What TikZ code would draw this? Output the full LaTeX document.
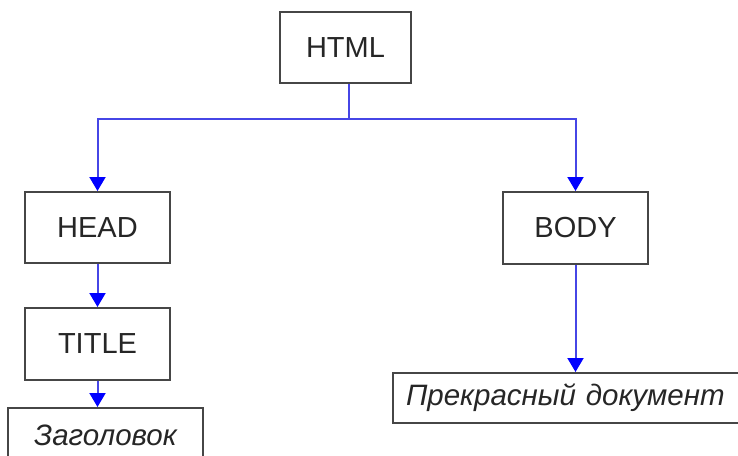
\documentclass[tikz,border=0pt]{standalone}
\usepackage{fontspec}
\setmainfont{Liberation Sans}
\usetikzlibrary{arrows.meta}
\definecolor{linkblue}{RGB}{70,70,230}
\definecolor{boxgray}{RGB}{70,70,70}

\begin{document}
\begin{tikzpicture}[x=1pt,y=-1pt,
			box/.style={draw=boxgray, line width=2pt, fill=white, text=black!85, font=\fontsize{29}{35}\selectfont},
			tag/.style={box, minimum width=145pt, minimum height=71pt},
			txt/.style={box, font=\fontsize{29.5}{35}\selectfont\itshape, minimum height=51pt},
			link/.style={draw=linkblue, line width=2pt, -{Triangle[width=16pt,length=14pt,color=blue]}}]
			\useasboundingbox (0,0) rectangle (738,455);
			\clip (0,0) rectangle (738,455);
			\node[tag, minimum width=131pt] (html) at (345.5,47.5) {HTML};
			\node[tag] (head) at (97.5,227.5) {HEAD};
			\node[tag, minimum height=72pt] (title) at (97.5,344) {TITLE};
			\node[tag, minimum height=72pt] (body) at (575.5,228) {BODY};
			\node[txt, minimum width=195pt, minimum height=54pt] (zag) at (105.5,435) {Заголовок};
			\node[txt, anchor=west, text width=330pt, align=left, inner xsep=13pt, minimum height=50pt] (doc) at (392,398) {Прекрасный документ};
			\coordinate (fork) at (349,119);
			\draw[draw=linkblue, line width=2pt] (html.south -| fork) -- (fork);
			\draw[link] (fork) -| (head.north);
			\draw[link] (fork) -| (body.north);
			\draw[link] (head) -- (title);
			\draw[link] (title.south) -- (title.south |- zag.north);
			\draw[link] (body.south) -- (body.south |- doc.north);
		\end{tikzpicture}
\end{document}
